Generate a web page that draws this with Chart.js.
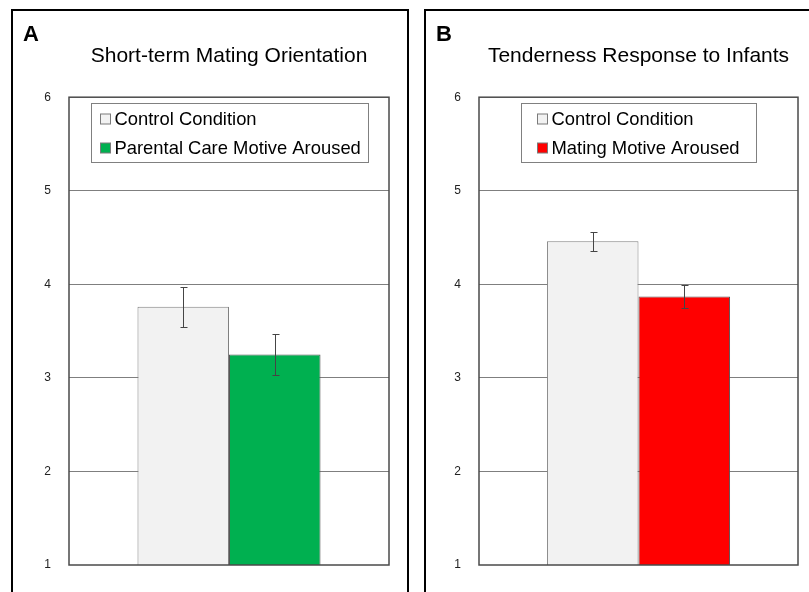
<!DOCTYPE html>
<html>
<head>
<meta charset="utf-8">
<script src="https://cdn.jsdelivr.net/npm/chart.js@4.4.0/dist/chart.umd.min.js"></script>
<style>
body { margin: 0; background: #fff; overflow: hidden; width: 809px; height: 592px; position: relative; }
.panel { position: absolute; top: 9px; height: 600px; border: 2px solid #000; box-sizing: border-box; background: #fff; }
#panelA { left: 11px; width: 398px; }
#panelB { left: 424px; width: 398px; }
.panel canvas { display: block; }
</style>
</head>
<body>
<div class="panel" id="panelA"><canvas id="chartA" width="394" height="596"></canvas></div>
<div class="panel" id="panelB"><canvas id="chartB" width="394" height="596"></canvas></div>
<script>
// values (means and standard errors)
const matingConditions = ['Control Condition', 'Parental Care Motive Aroused'];
const matingMeans = [3.76, 3.25];
const matingErrors = [0.215, 0.22];

const tendernessConditions = ['Control Condition', 'Mating Motive Aroused'];
const tendernessMeans = [4.46, 3.87];
const tendernessErrors = [0.10, 0.125];

const yTicks = [1, 2, 3, 4, 5, 6];

Chart.defaults.font.family = '"Liberation Sans", Arial, sans-serif';

const panelPlugin = {
    id: 'panel',
    afterDatasetsDraw(chart, args, opts) {
        const ctx = chart.ctx;
        const area = chart.chartArea;
        const y = chart.scales.y;
        ctx.save();

        // error bars
        chart.data.datasets.forEach((ds, i) => {
            const meta = chart.getDatasetMeta(i);
            meta.data.forEach((bar, j) => {
                const top = Math.round(y.getPixelForValue(ds.data[j] + ds.errors[j])) + 0.5;
                const bot = Math.round(y.getPixelForValue(ds.data[j] - ds.errors[j])) + 0.5;
                const x = Math.round(bar.x) + 0.5;
                ctx.strokeStyle = '#454545';
                ctx.lineWidth = 1;
                ctx.beginPath();
                ctx.moveTo(x, top); ctx.lineTo(x, bot);
                ctx.moveTo(x - 3, top); ctx.lineTo(x + 4, top);
                ctx.moveTo(x - 3, bot); ctx.lineTo(x + 4, bot);
                ctx.stroke();
            });
        });

        // plot frame
        ctx.strokeStyle = '#4a4a4a';
        ctx.lineWidth = 1.5;
        ctx.strokeRect(area.left, area.top, area.right - area.left, area.bottom - area.top);

        // legend box
        const lx = Math.round((area.left + area.right) / 2 - opts.legendWidth / 2) + 0.5;
        const ly = Math.round(area.top + 6) + 0.5;
        ctx.fillStyle = '#fff';
        ctx.fillRect(lx, ly, opts.legendWidth, 59);
        ctx.strokeStyle = '#808080';
        ctx.lineWidth = 1;
        ctx.strokeRect(lx, ly, opts.legendWidth, 59);
        ctx.font = '18.4px "Liberation Sans", Arial, sans-serif';
        ctx.textBaseline = 'middle';
        chart.data.datasets.forEach((ds, i) => {
            const cy = ly + 15.5 + i * 28.5;
            const sx = lx + opts.legendPad;
            ctx.fillStyle = ds.backgroundColor;
            ctx.fillRect(sx, Math.round(cy - 5), 10, 10);
            ctx.strokeStyle = '#7a7a7a';
            ctx.strokeRect(sx, Math.round(cy - 5), 10, 10);
            ctx.fillStyle = '#000';
            ctx.fillText(ds.label, sx + 14, cy + 1);
        });

        // panel letter
        ctx.font = 'bold 22px "Liberation Sans", Arial, sans-serif';
        ctx.textBaseline = 'alphabetic';
        ctx.fillStyle = '#000';
        ctx.fillText(opts.letter, 10, 30);
        ctx.restore();
    }
};

function makePanel(id, title, conditions, means, errors, color, letter, pad, legendWidth, legendPad) {
    return new Chart(document.getElementById(id), {
        type: 'bar',
        data: {
            labels: [''],
            datasets: [
                {
                    label: conditions[0],
                    data: [means[0]],
                    errors: [errors[0]],
                    backgroundColor: '#F2F2F2',
                    borderColor: '#808080',
                    borderWidth: 1
                },
                {
                    label: conditions[1],
                    data: [means[1]],
                    errors: [errors[1]],
                    backgroundColor: color,
                    borderColor: '#555555',
                    borderWidth: 1
                }
            ]
        },
        options: {
            responsive: false,
            animation: false,
            layout: { padding: { left: 0, right: pad.right, top: 0, bottom: 42 } },
            datasets: { bar: { categoryPercentage: pad.group, barPercentage: 1 } },
            scales: {
                x: { display: false },
                y: {
                    min: 1,
                    max: 6,
                    afterFit: s => { s.width = pad.left; },
                    afterBuildTicks: s => { s.ticks = yTicks.map(v => ({ value: v })); },
                    border: { display: false },
                    grid: {
                        drawTicks: false,
                        color: c => (c.tick.value === 1 || c.tick.value === 6) ? 'rgba(0,0,0,0)' : '#7f7f7f',
                        lineWidth: 1
                    },
                    ticks: { padding: 18, color: '#222', font: { size: 12 } }
                }
            },
            plugins: {
                legend: { display: false },
                tooltip: { enabled: false },
                title: {
                    display: true,
                    text: title,
                    fullSize: false,
                    color: '#000',
                    font: { size: 21, weight: 'normal', lineHeight: 1.2 },
                    padding: { top: 33, bottom: 28 }
                },
                panel: { letter: letter, legendWidth: legendWidth, legendPad: legendPad }
            }
        },
        plugins: [panelPlugin]
    });
}

makePanel('chartA', 'Short-term Mating Orientation', matingConditions, matingMeans, matingErrors,
    '#00B050', 'A', { left: 56, right: 18, group: 0.572 }, 277, 9);
makePanel('chartB', 'Tenderness Response to Infants', tendernessConditions, tendernessMeans, tendernessErrors,
    '#FF0000', 'B', { left: 53, right: 22, group: 0.574 }, 235, 16);
</script>
</body>
</html>
